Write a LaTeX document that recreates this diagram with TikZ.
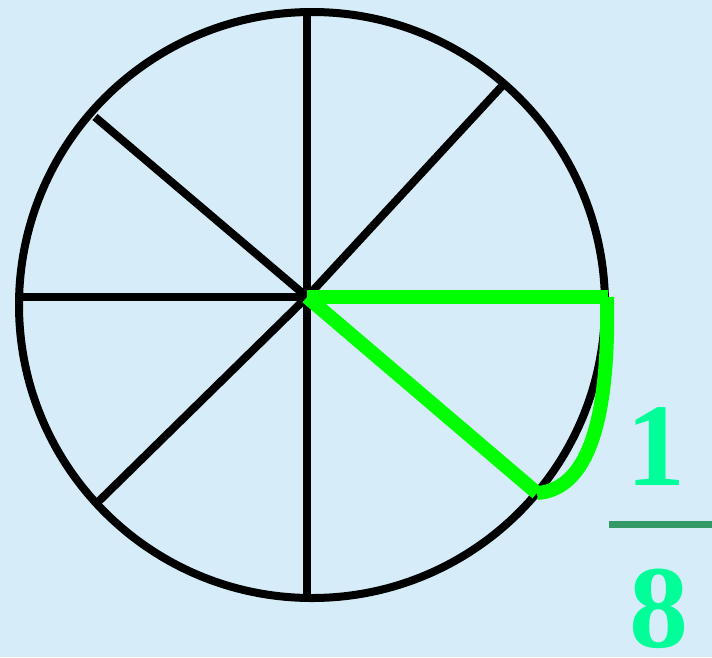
\documentclass[tikz,border=0pt]{standalone}
\usepackage{fontspec}
\setmainfont{Liberation Serif}
\definecolor{bgblue}{RGB}{214,236,248}
\definecolor{hlgreen}{RGB}{0,255,0}
\definecolor{numgreen}{RGB}{0,255,153}
\definecolor{bargreen}{RGB}{51,153,102}
\tikzset{
  spoke/.style={draw=black, line width=8pt},
  rim/.style={draw=black, line width=8pt},
  hl/.style={draw=hlgreen, line width=14pt},
  num/.style={text=numgreen, font=\fontsize{118}{118}\selectfont\bfseries, inner sep=0pt, anchor=base},
  fracbar/.style={draw=bargreen, line width=7pt}
}
\begin{document}
\begin{tikzpicture}[x=1pt,y=-1pt]
\fill[bgblue] (0,0) rectangle (712,657);
\useasboundingbox (0,0) rectangle (712,657);
\coordinate (O) at (312,305);
\coordinate (C) at (307,297);
\coordinate (T) at (307,12);
\coordinate (B) at (307,598);
\coordinate (L) at (19,297);
\coordinate (R) at (608,297);
\coordinate (NW) at (95,117);
\coordinate (NE) at (503,85);
\coordinate (SW) at (97,503);
\coordinate (SE) at (537,493);
\draw[rim] (O) circle[radius=293];
\draw[spoke] (C) -- (T);
\draw[spoke] (C) -- (B);
\draw[spoke] (C) -- (L);
\draw[spoke] (C) -- (NW);
\draw[spoke] (C) -- (NE);
\draw[spoke] (C) -- (SW);
\draw[hl] (C) -- (R);
\draw[hl] (C) -- (SE);
\draw[hl] (607,297) .. controls (610,440) and (580,490) .. (SE);
\node[num] (one) at (656,485) {1};
\coordinate (barL) at (609,524);
\coordinate (barR) at (712,524);
\draw[fracbar] (barL) -- (barR);
\node[num] (eight) at (659,647) {8};
\end{tikzpicture}
\end{document}
